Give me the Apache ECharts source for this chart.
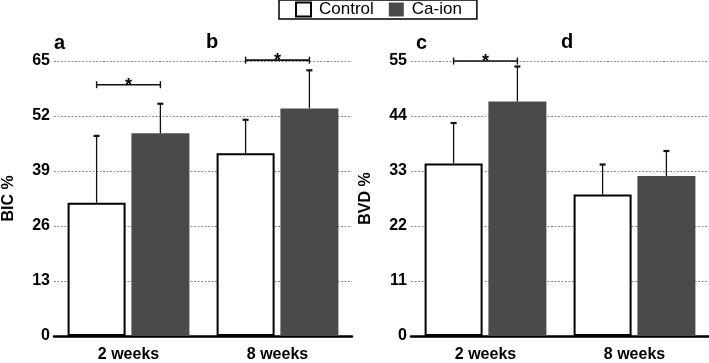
<!DOCTYPE html>
<html><head><meta charset="utf-8">
<script src="https://cdn.jsdelivr.net/npm/echarts@6/dist/echarts.min.js"></script>
<style>html,body{margin:0;padding:0;background:#fff}#c{width:709px;height:363px}</style>
</head><body><div id="c"></div>
<script>
// ---- data ----
const categories = ['2 weeks', '8 weeks'];
const seriesNames = ['Control', 'Ca-ion'];
const bicControl = [31.5, 43.2];
const bicControlSD = [15.8, 7.9];
const bicCa = [47.9, 53.8];
const bicCaSD = [7.0, 9.0];
const bvdControl = [34.5, 28.3];
const bvdControlSD = [8.1, 6.0];
const bvdCa = [46.9, 32.0];
const bvdCaSD = [7.0, 5.0];
const bicAxis = [0, 65, 13];   // min, max, interval
const bvdAxis = [0, 55, 11];
const bicSigLevel = [59.4, 65.2]; // significance bracket heights per category
const bvdSigLevel = [55, null];
const panelLabels = ['a', 'b', 'c', 'd'];
const axisNames = ['BIC %', 'BVD %'];

// ---- styling ----
const FONT = 'Liberation Sans, Arial, Helvetica, sans-serif';
const BAR_W = 58, GAP = 0.1;
const OFF = (BAR_W + BAR_W * GAP) / 2;
const DARK = '#4a4a4a';

function errData(vals, sds, side) {
  return vals.map((v, i) => [i, v, sds[i], side]);
}
function errRender(params, api) {
  const ci = api.value(0), m = api.value(1), sd = api.value(2), side = api.value(3);
  const b = api.coord([ci, m]);
  const t = api.coord([ci, m + sd]);
  const x = b[0] + side * OFF;
  return { type: 'group', children: [
    { type: 'line', shape: { x1: x, y1: b[1], x2: x, y2: t[1] }, style: { stroke: '#111', lineWidth: 1.3 } },
    { type: 'line', shape: { x1: x - 3, y1: t[1], x2: x + 3, y2: t[1] }, style: { stroke: '#111', lineWidth: 2.2 } }
  ]};
}
function sigData(levels) {
  const out = [];
  levels.forEach((l, i) => { if (l != null) out.push([i, l]); });
  return out;
}
function sigRender(params, api) {
  const p = api.coord([api.value(0), api.value(1)]);
  const x1 = p[0] - OFF, x2 = p[0] + OFF, y = p[1];
  return { type: 'group', children: [
    { type: 'line', shape: { x1: x1, y1: y, x2: x2, y2: y }, style: { stroke: '#111', lineWidth: 1.6 } },
    { type: 'line', shape: { x1: x1, y1: y - 3.5, x2: x1, y2: y + 3.5 }, style: { stroke: '#111', lineWidth: 1.4 } },
    { type: 'line', shape: { x1: x2, y1: y - 3.5, x2: x2, y2: y + 3.5 }, style: { stroke: '#111', lineWidth: 1.4 } },
    { type: 'text', style: { text: '*', x: p[0], y: y + 1, align: 'center', verticalAlign: 'middle', font: 'bold 18px ' + FONT, fill: '#000' } }
  ]};
}

const grids = [
  { left: 52, width: 300, top: 61, height: 277 },
  { left: 411, width: 298, top: 61, height: 277 }
];
function xAx(gi) {
  return {
    type: 'category', gridIndex: gi, data: categories,
    axisLine: { lineStyle: { color: '#000', width: 2.5 } },
    axisTick: { show: false },
    axisLabel: { color: '#000', fontWeight: 'bold', fontSize: 16, fontFamily: FONT, margin: 11 }
  };
}
function yAx(gi, ax, name) {
  return {
    type: 'value', gridIndex: gi, min: ax[0], max: ax[1], interval: ax[2],
    name: name, nameLocation: 'middle', nameGap: 37,
    nameTextStyle: { color: '#000', fontWeight: 'bold', fontSize: 16, fontFamily: FONT },
    axisLine: { show: false }, axisTick: { show: false },
    axisLabel: { color: '#000', fontWeight: 'bold', fontSize: 16, fontFamily: FONT, margin: 4 },
    splitLine: { lineStyle: { color: '#888', width: 1, type: [2, 1.5] } }
  };
}
function barSeries(gi, ctrl, ca) {
  return [
    { type: 'bar', name: seriesNames[0], xAxisIndex: gi, yAxisIndex: gi, data: ctrl, barWidth: BAR_W, barGap: (GAP * 100) + '%',
      itemStyle: { color: '#fff', borderColor: '#000', borderWidth: 2 }, animation: false, z: 2 },
    { type: 'bar', name: seriesNames[1], xAxisIndex: gi, yAxisIndex: gi, data: ca, barWidth: BAR_W, barGap: (GAP * 100) + '%',
      itemStyle: { color: DARK }, animation: false, z: 2 }
  ];
}
function custom(gi, data, fn) {
  return { type: 'custom', xAxisIndex: gi, yAxisIndex: gi, data: data, renderItem: fn, animation: false, z: 5, silent: true };
}

const labelPos = [[54, 33], [206, 32], [416, 33], [561, 32]];

const option = {
  animation: false,
  textStyle: { fontFamily: FONT },
  grid: grids,
  xAxis: [xAx(0), xAx(1)],
  yAxis: [yAx(0, bicAxis, axisNames[0]), yAx(1, bvdAxis, axisNames[1])],
  legend: {
    left: 279, top: 0,
    data: [
      { name: seriesNames[0], itemStyle: { color: '#fff', borderColor: '#000', borderWidth: 2 } },
      { name: seriesNames[1], itemStyle: { color: DARK } }
    ],
    icon: 'rect', itemWidth: 15, itemHeight: 14, itemGap: 15,
    borderColor: '#000', borderWidth: 1.5, borderRadius: 0, padding: [1, 15, 1, 16],
    textStyle: { color: '#000', fontSize: 17, fontFamily: FONT, padding: [0, 0, 0, 3] }
  },
  graphic: panelLabels.map((t, i) => ({
    type: 'text', left: labelPos[i][0], top: labelPos[i][1],
    style: { text: t, font: 'bold 20px ' + FONT, fill: '#000' }
  })),
  series: [].concat(
    barSeries(0, bicControl, bicCa),
    barSeries(1, bvdControl, bvdCa),
    [
      custom(0, errData(bicControl, bicControlSD, -1), errRender),
      custom(0, errData(bicCa, bicCaSD, 1), errRender),
      custom(1, errData(bvdControl, bvdControlSD, -1), errRender),
      custom(1, errData(bvdCa, bvdCaSD, 1), errRender),
      custom(0, sigData(bicSigLevel), sigRender),
      custom(1, sigData(bvdSigLevel), sigRender)
    ]
  )
};
const chart = echarts.init(document.getElementById('c'), null, { renderer: 'canvas' });
chart.setOption(option);
</script>
</body></html>
